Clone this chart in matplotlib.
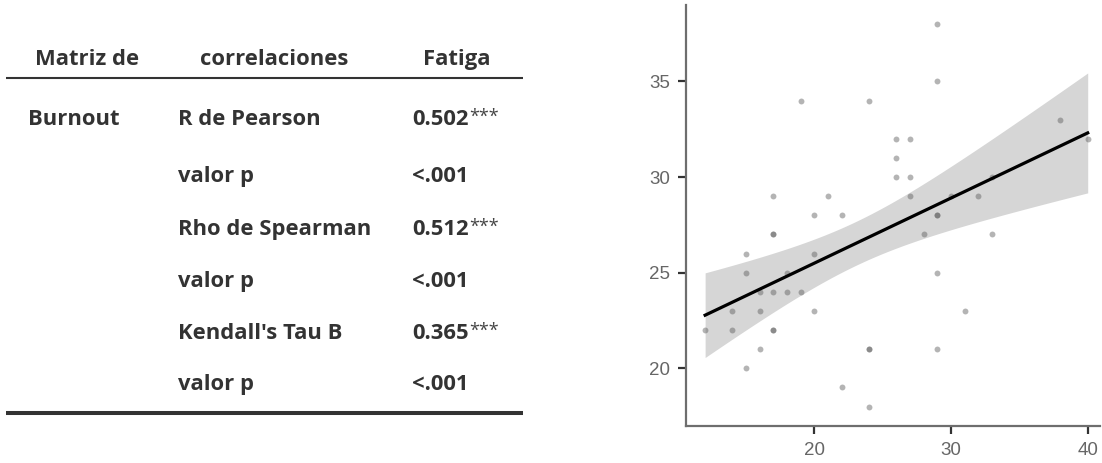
import numpy as np
import matplotlib.pyplot as plt

# --- table data ---
header = ["Matriz de", "correlaciones", "Fatiga"]
row_group = "Burnout"
stat_names = ["R de Pearson", "valor p", "Rho de Spearman", "valor p", "Kendall's Tau B", "valor p"]
stat_values = ["0.502", "<.001", "0.512", "<.001", "0.365", "<.001"]
stat_stars = ["***", "", "***", "", "***", ""]

# --- scatter data (Burnout x, Fatiga y), repeated pairs listed twice ---
burnout = [19, 17, 21, 20, 22, 17, 17, 15, 20, 15, 18, 16, 17, 18, 19, 14, 16, 20,
           12, 14, 17, 17, 16, 15, 22,
           29, 29, 24, 26, 27, 26, 26, 27, 27, 30, 32, 29, 29, 28, 33, 38, 40,
           33, 29, 31, 24, 24, 29, 24]
fatiga = [34, 29, 29, 28, 28, 27, 27, 26, 26, 25, 25, 24, 24, 24, 24, 23, 23, 23,
          22, 22, 22, 22, 21, 20, 19,
          38, 35, 34, 32, 32, 31, 30, 30, 29, 29, 29, 28, 28, 27, 27, 33, 32,
          30, 25, 23, 21, 21, 21, 18]

txt_color = "#333333"
fam = ["Open Sans", "DejaVu Sans"]

fig = plt.figure(figsize=(11.02, 4.63), dpi=100)

# table drawn in pixel coordinates
tab = fig.add_axes([0, 0, 1, 1])
tab.set_xlim(0, 1102)
tab.set_ylim(463, 0)
tab.axis("off")

fs = 15.8
head_x = [87, 274, 457]
for hx, h in zip(head_x, header):
    tab.text(hx, 65, h, ha="center", va="baseline", fontsize=fs, fontweight="bold",
             color=txt_color, family=fam)
tab.plot([6, 523], [78.3, 78.3], color=txt_color, lw=1.5, solid_capstyle="butt")

row_base = [125, 182, 235, 287, 339, 390]
tab.text(28, row_base[0], row_group, ha="left", va="baseline", fontsize=fs,
         fontweight="bold", color=txt_color, family=fam)
for yb, name, val, st in zip(row_base, stat_names, stat_values, stat_stars):
    tab.text(178, yb, name, ha="left", va="baseline", fontsize=fs, fontweight="bold",
             color=txt_color, family=fam)
    t = tab.text(412, yb, val, ha="left", va="baseline", fontsize=fs, fontweight="bold",
                 color=txt_color, family=fam)
    if st:
        tab.annotate(st, xy=(1, 1), xycoords=t, ha="left", va="top", fontsize=13,
                     color="#444444", family=fam, xytext=(0.3, 0.5), textcoords="offset points")
tab.plot([6, 523], [413.3, 413.3], color=txt_color, lw=2.9, solid_capstyle="butt")

# scatter plot with linear fit and 95% CI
ax = fig.add_axes([686 / 1102, 1 - 425.7 / 463, 414 / 1102, 420.7 / 463])
x = np.array(burnout, dtype=float)
y = np.array(fatiga, dtype=float)
b, a = np.polyfit(x, y, 1)
n = len(x)
resid = y - (a + b * x)
s = np.sqrt(np.sum(resid ** 2) / (n - 2))
sxx = np.sum((x - x.mean()) ** 2)
xs = np.linspace(x.min(), x.max(), 100)
ys = a + b * xs
se = s * np.sqrt(1 / n + (xs - x.mean()) ** 2 / sxx)
ax.fill_between(xs, ys - 2.01 * se, ys + 2.01 * se, color="#d6d6d6", lw=0, zorder=1)
ax.scatter(x, y, s=18, color="#5a5a5a", alpha=0.45, lw=0, zorder=2, clip_on=False)
ax.plot(xs, ys, color="black", lw=2.3, zorder=3)

ax.set_xlim(10.6, 40.9)
ax.set_ylim(17, 39)
ax.set_xticks([20, 30, 40])
ax.set_yticks([20, 25, 30, 35])
for sp in ["top", "right"]:
    ax.spines[sp].set_visible(False)
for sp in ["left", "bottom"]:
    ax.spines[sp].set_color("#6e6e6e")
    ax.spines[sp].set_linewidth(1.6)
ax.tick_params(length=5.5, width=1.6, color="#333333", labelsize=13.5,
               labelcolor="#666666", pad=6)
for lab in ax.get_xticklabels() + ax.get_yticklabels():
    lab.set_family("Liberation Sans")
ax.patch.set_alpha(0)

fig.savefig("out.png", dpi=100)
